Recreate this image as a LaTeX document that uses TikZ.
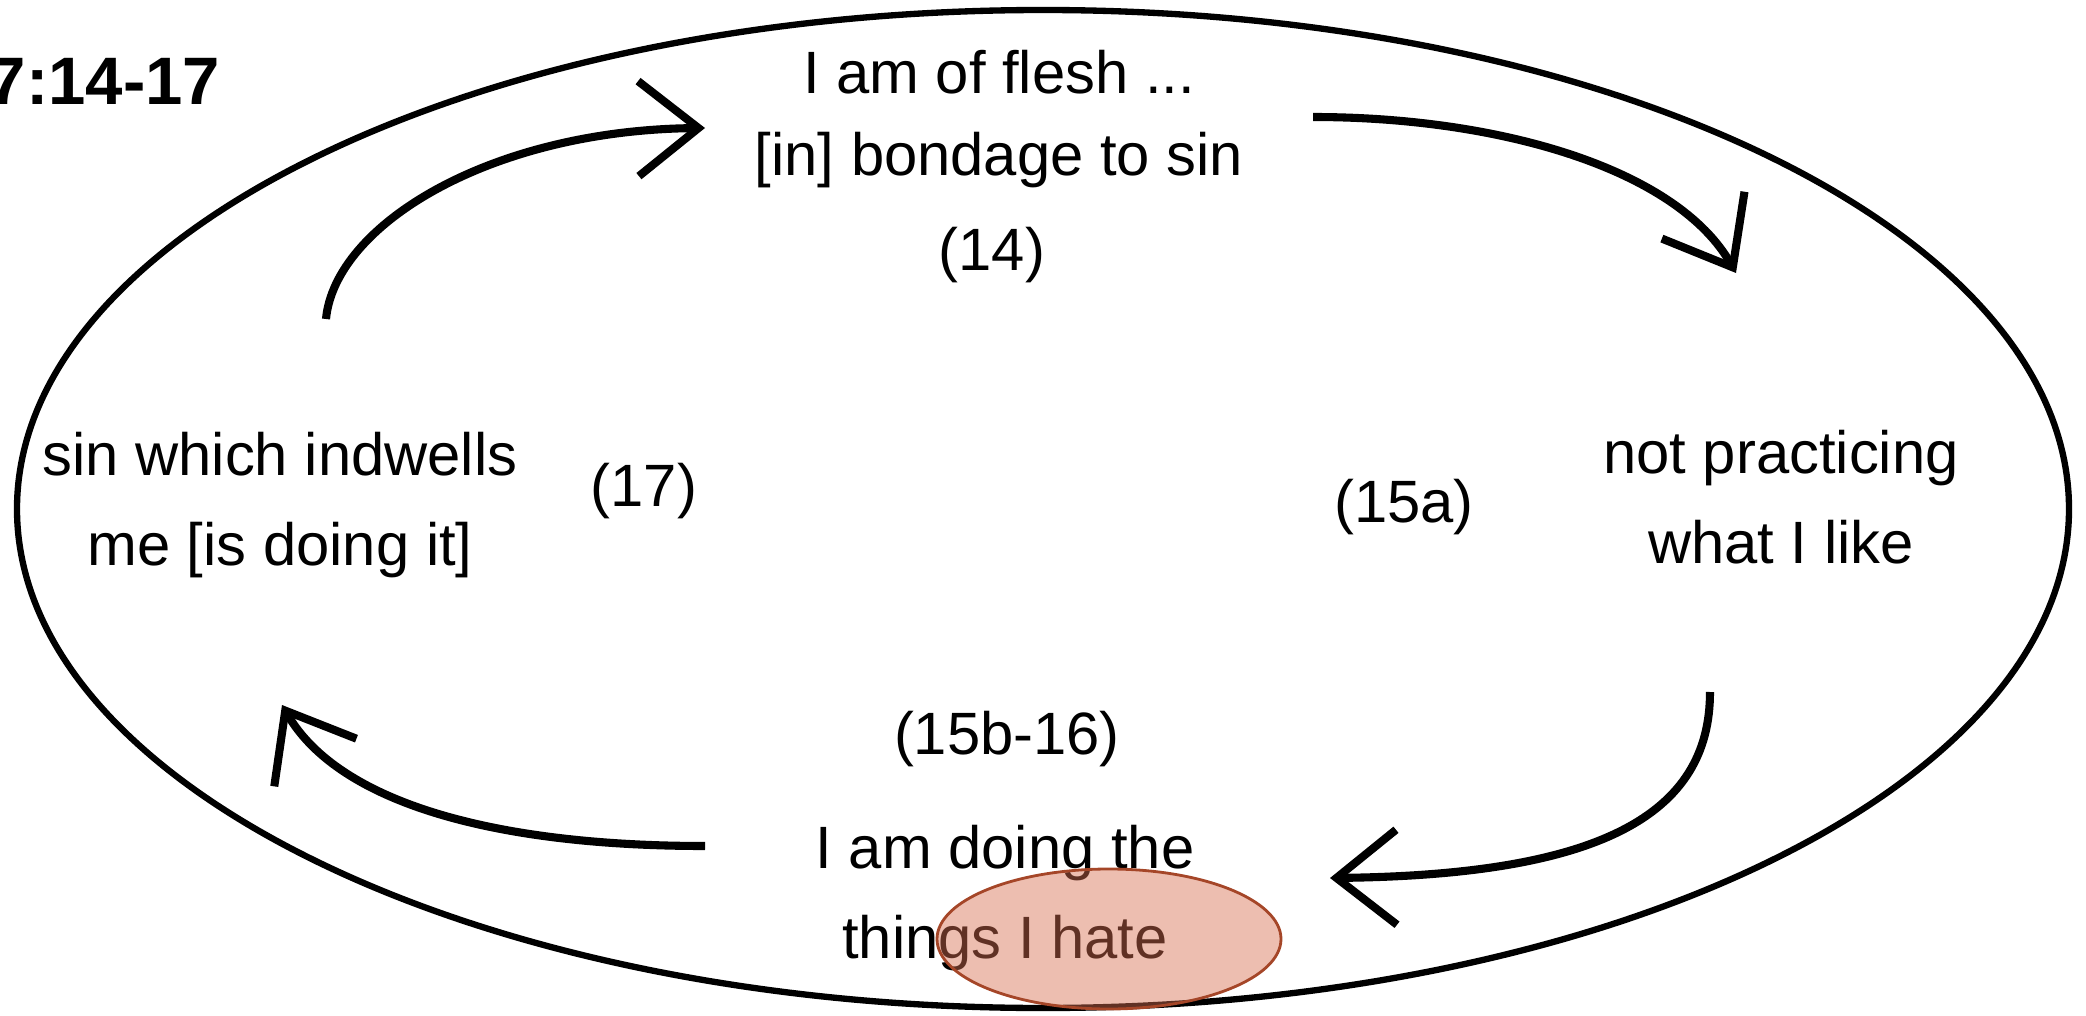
\documentclass[tikz,border=0pt]{standalone}
\usepackage{fontspec}
\setmainfont{Liberation Sans}
\usetikzlibrary{arrows.meta}

\definecolor{hatefill}{RGB}{215,110,80}
\definecolor{hatedraw}{RGB}{165,70,40}

\begin{document}
\begin{tikzpicture}[
    txt/.style={font=\fontsize{17}{25.6}\selectfont, align=center, inner sep=0pt, anchor=base},
    cyc/.style={line width=2.3pt, -{Straight Barb[length=0.6cm,width=0.95cm,line width=2.3pt]}}
  ]

    % Page frame (same proportions as the original slide)
    \useasboundingbox (0,0) rectangle (20.86,10.15);

    % Outer cycle
    \draw[line width=1.8pt] (10.43,5.06) ellipse (10.26 and 4.99);

    % Title, partly cut by the left edge
    \node[anchor=base east, inner sep=0pt, font=\fontsize{19.1}{23}\selectfont\bfseries] (title) at (2.21,9.11) {7:14-17};

    % The four stages of the cycle (base = last line)
    \node[txt, font=\fontsize{17}{23.6}\selectfont] (flesh) at (9.99,8.39) {I am of flesh ...\\{}[in] bondage to sin};
    \node[txt] (practice) at (17.81,4.52) {not practicing\\what I like};
    \node[txt] (doing) at (10.05,0.57) {I am doing the\\things I hate};
    \node[txt] (indwell) at (2.80,4.50) {sin which indwells\\me [is doing it]};

    % Verse numbers
    \node[txt] (v14) at (9.92,7.45) {(14)};
    \node[txt] (v15a) at (14.04,4.93) {(15a)};
    \node[txt] (v15b) at (10.07,2.61) {(15b-16)};
    \node[txt] (v17) at (6.44,5.09) {(17)};

    % Arrow ends
    \coordinate (a1) at (3.26,6.96);
    \coordinate (b1) at (7.05,8.87);
    \coordinate (a2) at (13.13,8.98);
    \coordinate (b2) at (17.36,7.42);
    \coordinate (a3) at (17.10,3.23);
    \coordinate (b3) at (13.30,1.37);
    \coordinate (a4) at (7.05,1.69);
    \coordinate (b4) at (2.82,3.10);

    % Arrows round the cycle
    \draw[cyc] (a1) .. controls (3.35,7.90) and (4.90,8.85) .. (b1);
    \draw[cyc] (a2) .. controls (15.00,8.98) and (16.77,8.46) .. (b2);
    \draw[cyc] (a3) .. controls (17.10,2.00) and (16.00,1.40) .. (b3);
    \draw[cyc] (a4) .. controls (5.00,1.69) and (3.40,2.10) .. (b4);

    % Highlight on "hate"
    \draw[hatedraw, line width=0.8pt, fill=hatefill, fill opacity=0.45] (11.09,0.76) ellipse (1.72 and 0.70);

\end{tikzpicture}
\end{document}
